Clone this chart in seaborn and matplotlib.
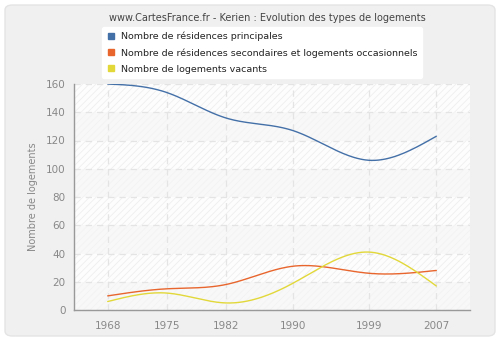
import numpy as np
import pandas as pd
import matplotlib
matplotlib.use("Agg")
import matplotlib.pyplot as plt
from matplotlib.patches import FancyBboxPatch
from matplotlib.lines import Line2D
import seaborn as sns

years = [1968, 1975, 1982, 1990, 1999, 2007]
principales = [160, 154, 136, 127, 106, 123]
secondaires = [10, 15, 18, 31, 26, 28]
vacants = [6, 12, 5, 19, 41, 17]
series_names = ["Nombre de résidences principales",
                "Nombre de résidences secondaires et logements occasionnels",
                "Nombre de logements vacants"]
colors = ["#4470a8", "#e8662e", "#e2d83a"]
title = "www.CartesFrance.fr - Kerien : Evolution des types de logements"
ylabel = "Nombre de logements"
yticks = [0, 20, 40, 60, 80, 100, 120, 140, 160]


def natural_spline(x, y, n=300):
    x = np.asarray(x, float)
    y = np.asarray(y, float)
    k = len(x)
    h = np.diff(x)
    A = np.zeros((k, k))
    b = np.zeros(k)
    A[0, 0] = 1
    A[-1, -1] = 1
    for i in range(1, k - 1):
        A[i, i - 1] = h[i - 1]
        A[i, i] = 2 * (h[i - 1] + h[i])
        A[i, i + 1] = h[i]
        b[i] = 3 * ((y[i + 1] - y[i]) / h[i] - (y[i] - y[i - 1]) / h[i - 1])
    c = np.linalg.solve(A, b)
    xs = np.linspace(x[0], x[-1], n)
    ys = np.empty_like(xs)
    for j, xv in enumerate(xs):
        i = min(np.searchsorted(x, xv, side="right") - 1, k - 2)
        dx = xv - x[i]
        bi = (y[i + 1] - y[i]) / h[i] - h[i] * (2 * c[i] + c[i + 1]) / 3
        di = (c[i + 1] - c[i]) / (3 * h[i])
        ys[j] = y[i] + bi * dx + c[i] * dx ** 2 + di * dx ** 3
    return xs, ys


sns.set_style("white")
plt.rcParams["font.family"] = ["DejaVu Sans"]
plt.rcParams["hatch.color"] = "#ebebeb"
plt.rcParams["hatch.linewidth"] = 0.5

fig = plt.figure(figsize=(5, 3.4), dpi=100, facecolor="white")
panel = FancyBboxPatch((5 / 500, 4 / 340), 490 / 500, 331 / 340,
                       boxstyle="round,pad=0,rounding_size=0.015",
                       transform=fig.transFigure, facecolor="#f0f0f0",
                       edgecolor="#e4e4e4", linewidth=1, zorder=-10)
fig.patches.append(panel)

ax = fig.add_axes([74 / 500, 30 / 340, 396 / 500, 226 / 340])
ax.set_zorder(1)
ax.set_facecolor("white")

for k, lo in enumerate(range(0, 160, 20)):
    if k % 2 == 1:
        ax.axhspan(lo, lo + 20, facecolor="#fdfdfd", edgecolor="#ececec",
                   hatch="/////", linewidth=0, zorder=0)
    else:
        ax.axhspan(lo, lo + 20, facecolor="#f8f8f8", edgecolor="#f2f2f2",
                   hatch="/////", linewidth=0, zorder=0)

for vals, col in zip([principales, secondaires, vacants], colors):
    xs, ys = natural_spline(years, vals)
    df = pd.DataFrame({"x": xs, "y": ys})
    sns.lineplot(data=df, x="x", y="y", ax=ax, color=col, linewidth=1, zorder=3)

ax.set_xlim(1964, 2011)
ax.set_ylim(0, 160)
ax.set_xticks(years)
ax.set_yticks(yticks)
ax.grid(True, color="#e4e4e4", linestyle=(0, (5, 4)), linewidth=0.9, zorder=1)
ax.set_axisbelow(True)
for s in ["top", "right"]:
    ax.spines[s].set_visible(False)
for s in ["left", "bottom"]:
    ax.spines[s].set_color("#999999")
    ax.spines[s].set_linewidth(1)
ax.tick_params(axis="both", colors="#999999", labelcolor="#888888",
               labelsize=7.5, length=4, width=1, direction="out", pad=2)
ax.tick_params(axis="x", pad=4)
ax.set_xlabel("")
ax.set_ylabel(ylabel, color="#888888", fontsize=7, labelpad=6)

fig.text(267 / 500, 1 - 18 / 340, title, ha="center", va="center",
         fontsize=7.0, color="#444444")

handles = [Line2D([], [], marker="s", linestyle="none", markersize=4.0,
                  markerfacecolor=c, markeredgecolor=c) for c in colors]
leg = fig.legend(handles, series_names, loc="upper left",
                 bbox_to_anchor=(97 / 500, 1 - 22 / 340), frameon=True,
                 fontsize=6.8, handletextpad=0.5, labelspacing=0.75,
                 borderpad=0.5, handlelength=1.0, fancybox=True)
leg.set_zorder(5)
leg.get_frame().set_facecolor("white")
leg.get_frame().set_edgecolor("white")
leg.get_frame().set_alpha(1)
for t in leg.get_texts():
    t.set_color("#222222")

fig.savefig("out.png", dpi=100, facecolor="white")
